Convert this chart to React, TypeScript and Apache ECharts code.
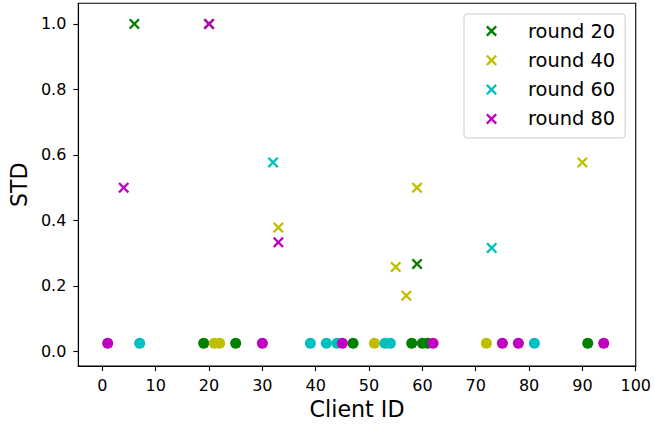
import React, { useEffect, useRef } from "react";
import * as echarts from "echarts";

const roundNames = ["round 20", "round 40", "round 60", "round 80"];
const roundColors = ["#008000", "#bfbf00", "#00bfbf", "#bf00bf"];

// Clients with non-zero STD (cross markers): [client id, std]
const cross20 = [[6, 1.0], [20, 1.0], [59, 0.267]];
const cross40 = [[33, 0.378], [55, 0.258], [57, 0.17], [59, 0.5], [90, 0.577]];
const cross60 = [[32, 0.577], [73, 0.316]];
const cross80 = [[4, 0.5], [20, 1.0], [33, 0.333]];

// Clients drawn as dots near the bottom
const dotLevel = 0.025;
const dots20 = [19, 25, 47, 58, 60, 61, 91];
const dots40 = [21, 22, 51, 72];
const dots60 = [7, 39, 42, 44, 53, 54, 81];
const dots80 = [1, 30, 45, 62, 75, 78, 94];

const xTicks = [0, 10, 20, 30, 40, 50, 60, 70, 80, 90, 100];
const yTicks = [0, 0.2, 0.4, 0.6, 0.8, 1.0];

const crossPath =
  "path://M0,1.5 L1.5,0 L5,3.5 L8.5,0 L10,1.5 L6.5,5 L10,8.5 L8.5,10 L5,6.5 L1.5,10 L0,8.5 L3.5,5 Z";

const FONT = "DejaVu Sans";

export default function App() {
  const ref = useRef<HTMLDivElement>(null);
  useEffect(() => {
    if (!ref.current) return;
    const chart = echarts.init(ref.current, null, { renderer: "svg" });
    const crosses = [cross20, cross40, cross60, cross80];
    const dots = [dots20, dots40, dots60, dots80];
    const dotSeries = dots.map((d, i) => ({
      type: "scatter",
      name: roundNames[i] + " dots",
      data: d.map((x) => [x, dotLevel]),
      symbol: "circle",
      symbolSize: 11,
      itemStyle: { color: roundColors[i], opacity: 1 },
      silent: true,
    }));
    const crossSeries = crosses.map((d, i) => ({
      type: "scatter",
      name: roundNames[i],
      data: d,
      symbol: crossPath,
      symbolSize: 11,
      itemStyle: { color: roundColors[i], opacity: 1 },
      silent: true,
    }));
    const series: any[] = [];
    for (let i = 0; i < 4; i++) {
      series.push(crossSeries[i]);
      series.push(dotSeries[i]);
    }
    chart.setOption({
      animation: false,
      grid: {
        left: 76.5,
        right: 16.5,
        top: 3.3,
        bottom: 57,
        show: true,
        borderColor: "#000",
        borderWidth: 1.1,
        backgroundColor: "transparent",
      },
      legend: {
        data: roundNames.map((n) => ({ name: n, icon: crossPath })),
        orient: "vertical",
        left: 464,
        top: 14,
        padding: [7, 10, 9, 22],
        itemWidth: 11,
        itemHeight: 11,
        itemGap: 9.3,
        borderColor: "#cccccc",
        borderWidth: 1,
        borderRadius: 3,
        backgroundColor: "rgba(255,255,255,0.8)",
        selectedMode: false,
        textStyle: {
          fontFamily: FONT,
          fontSize: 19.4,
          lineHeight: 20,
          color: "#000",
          padding: [0, 0, 0, 26],
        },
      },
      xAxis: {
        type: "value",
        min: -4.5,
        max: 100,
        name: "Client ID",
        nameLocation: "middle",
        nameGap: 31,
        nameTextStyle: { fontFamily: FONT, fontSize: 22.2, color: "#000" },
        axisLine: { show: true, onZero: false, lineStyle: { color: "#000", width: 1.1 } },
        axisTick: {
          show: true,
          length: 5,
          lineStyle: { color: "#000", width: 1.1 },
          customValues: xTicks,
        },
        axisLabel: {
          fontFamily: FONT,
          fontSize: 16,
          color: "#000",
          margin: 11,
          customValues: xTicks,
          formatter: (v: number) => String(v),
        },
        splitLine: { show: false },
      },
      yAxis: {
        type: "value",
        min: -0.045,
        max: 1.063,
        name: "STD",
        nameLocation: "middle",
        nameGap: 46,
        nameTextStyle: { fontFamily: FONT, fontSize: 22.2, color: "#000" },
        axisLine: { show: true, onZero: false, lineStyle: { color: "#000", width: 1.1 } },
        axisTick: {
          show: true,
          length: 5,
          lineStyle: { color: "#000", width: 1.1 },
          customValues: yTicks,
        },
        axisLabel: {
          fontFamily: FONT,
          fontSize: 16,
          color: "#000",
          margin: 12,
          customValues: yTicks,
          formatter: (v: number) => v.toFixed(1),
        },
        splitLine: { show: false },
      },
      series,
    });
    return () => chart.dispose();
  }, []);
  return <div ref={ref} style={{ width: 654, height: 425, position: "absolute", left: 0, top: 0 }} />;
}
